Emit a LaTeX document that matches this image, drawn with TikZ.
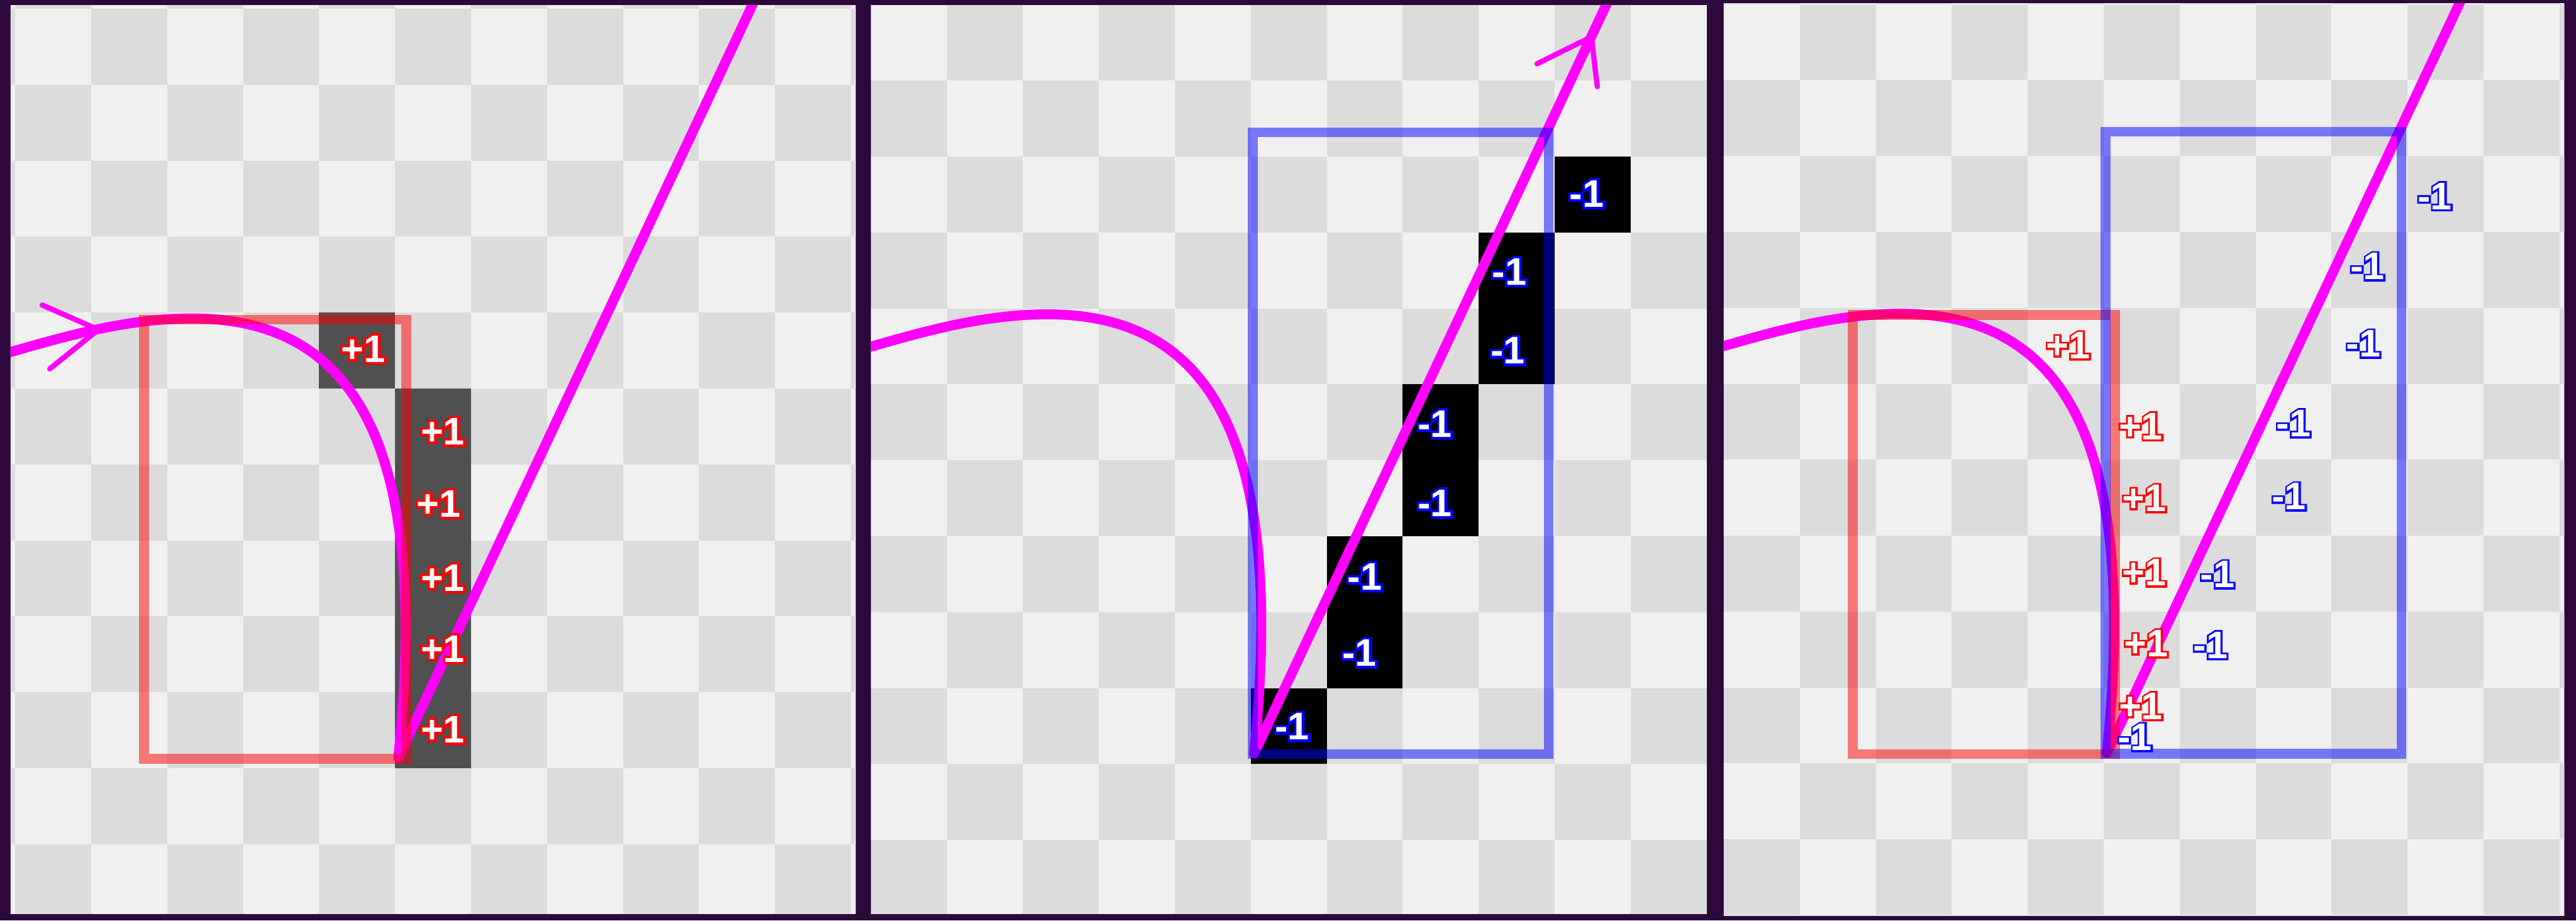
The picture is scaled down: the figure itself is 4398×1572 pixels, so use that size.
\documentclass[tikz,border=0pt]{standalone}
\usepackage{fontspec}
\setmainfont{Liberation Sans}
\newfontfamily\halofont{Liberation Sans}[BoldFeatures={FakeBold=13}]
\newfontfamily\halofontb{Liberation Sans}[BoldFeatures={FakeBold=10}]
\usetikzlibrary{calc}
\definecolor{bgpurple}{RGB}{45,8,58}
\definecolor{chkl}{RGB}{240,240,240}
\definecolor{chkd}{RGB}{220,220,220}
\definecolor{cellgray}{RGB}{80,80,80}
\definecolor{mag}{RGB}{255,0,255}
\def\cs{129.7}
% white glyphs on an emboldened coloured copy (halo)
\newcommand\hlbl[2]{\rlap{\halofont\bfseries\color{#1}#2}\textcolor{white}{#2}}
\newcommand\hlblb[2]{\rlap{\halofontb\bfseries\color{#1}#2}\textcolor{white}{#2}}
\tikzset{
  magline/.style={draw=mag, line width=0.17cm, line join=round},
  barb/.style={draw=mag, line width=0.09cm, line cap=round, line join=round},
  redbox/.style={draw=red, draw opacity=0.5, line width=0.17cm},
  bluebox/.style={draw=blue, draw opacity=0.5, line width=0.17cm},
  lbl/.style={inner sep=0pt, font=\fontsize{18.7}{20}\selectfont\bfseries},
}
\newcommand\checker{%
  \fill[chkl] (-200,-200) rectangle (1700,1800);
  \foreach \i in {-1,...,11}{\foreach \j in {-1,...,12}{%
    \pgfmathtruncatemacro\pp{mod(\i+\j+10,2)}%
    \ifnum\pp=1 \fill[chkd] (\i*\cs,\j*\cs) rectangle ++(\cs,\cs);\fi}}}
\newcommand\magpath{%
  \draw[magline] (-150,625) .. controls (0,587.5) and (100,548.6) .. (220,534)
    .. controls (500,500) and (722,620) .. (654,1279) -- (1302.5,-100);}
\begin{document}
\begin{tikzpicture}[x=0.01cm,y=-0.01cm]
\useasboundingbox (0,0) rectangle (4398,1572);
\fill[bgpurple] (0,0) rectangle (4398,1572);
% ---------------- panel 1
\begin{scope}
  \clip (18,9) rectangle (1461,1561);
  \begin{scope}[shift={(26,15)}]
    \checker
    \fill[cellgray] (4*\cs,4*\cs) rectangle (5*\cs,5*\cs);
    \fill[cellgray] (5*\cs,5*\cs) rectangle (6*\cs,10*\cs);
    \magpath
    \draw[barb] (46,506) -- (142,548) -- (59,615);
    \draw[redbox] (220,531) rectangle (668,1281);
    \node[lbl] (a1) at (594,581) {\hlbl{red}{+1}};
    \node[lbl] (a2) at (730,722) {\hlbl{red}{+1}};
    \node[lbl] (a3) at (723,845) {\hlbl{red}{+1}};
    \node[lbl] (a4) at (730,972) {\hlbl{red}{+1}};
    \node[lbl] (a5) at (730,1093) {\hlbl{red}{+1}};
    \node[lbl] (a6) at (730,1231) {\hlbl{red}{+1}};
  \end{scope}
\end{scope}
% ---------------- panel 2
\begin{scope}
  \clip (1487,9) rectangle (2914,1561);
  \begin{scope}[shift={(1487,8)}]
    \checker
    \fill[black] (5*\cs,9*\cs) rectangle (6*\cs,10*\cs);
    \fill[black] (6*\cs,7*\cs) rectangle (7*\cs,9*\cs);
    \fill[black] (7*\cs,5*\cs) rectangle (8*\cs,7*\cs);
    \fill[black] (8*\cs,3*\cs) rectangle (9*\cs,5*\cs);
    \fill[black] (9*\cs,2*\cs) rectangle (10*\cs,3*\cs);
    \magpath
    \draw[barb] (1137,101) -- (1230,55) -- (1240,140);
    \draw[bluebox] (652,218) rectangle (1157,1280);
    \node[lbl] (b1) at (1222,323) {\hlbl{blue}{-1}};
    \node[lbl] (b2) at (1090,456) {\hlbl{blue}{-1}};
    \node[lbl] (b3) at (1087,591) {\hlbl{blue}{-1}};
    \node[lbl] (b4) at (963,716) {\hlbl{blue}{-1}};
    \node[lbl] (b5) at (963,851) {\hlbl{blue}{-1}};
    \node[lbl] (b6) at (843,977) {\hlbl{blue}{-1}};
    \node[lbl] (b7) at (834,1107) {\hlbl{blue}{-1}};
    \node[lbl] (b8) at (719,1233) {\hlbl{blue}{-1}};
  \end{scope}
\end{scope}
% ---------------- panel 3
\begin{scope}
  \clip (2943,6) rectangle (4378,1564);
  \begin{scope}[shift={(2943,7)}]
    \checker
    \magpath
    \draw[redbox] (220,531) rectangle (668,1281);
    \draw[bluebox] (652,218) rectangle (1157,1280);
    \node[lbl] (c1) at (588,583) {\hlblb{red}{+1}};
    \node[lbl] (c2) at (712,721) {\hlblb{red}{+1}};
    \node[lbl] (c3) at (718,844) {\hlblb{red}{+1}};
    \node[lbl] (c4) at (718,971) {\hlblb{red}{+1}};
    \node[lbl] (c5) at (721,1092) {\hlblb{red}{+1}};
    \node[lbl] (c6) at (712,1199) {\hlblb{red}{+1}};
    \node[lbl] (d1) at (1214,328) {\hlblb{blue}{-1}};
    \node[lbl] (d2) at (1099,448) {\hlblb{blue}{-1}};
    \node[lbl] (d3) at (1092,580) {\hlblb{blue}{-1}};
    \node[lbl] (d4) at (973,716) {\hlblb{blue}{-1}};
    \node[lbl] (d5) at (965,841) {\hlblb{blue}{-1}};
    \node[lbl] (d6) at (843,974) {\hlblb{blue}{-1}};
    \node[lbl] (d7) at (831,1095) {\hlblb{blue}{-1}};
    \node[lbl] (d8) at (702,1252) {\hlblb{blue}{-1}};
  \end{scope}
\end{scope}
\end{tikzpicture}
\end{document}
